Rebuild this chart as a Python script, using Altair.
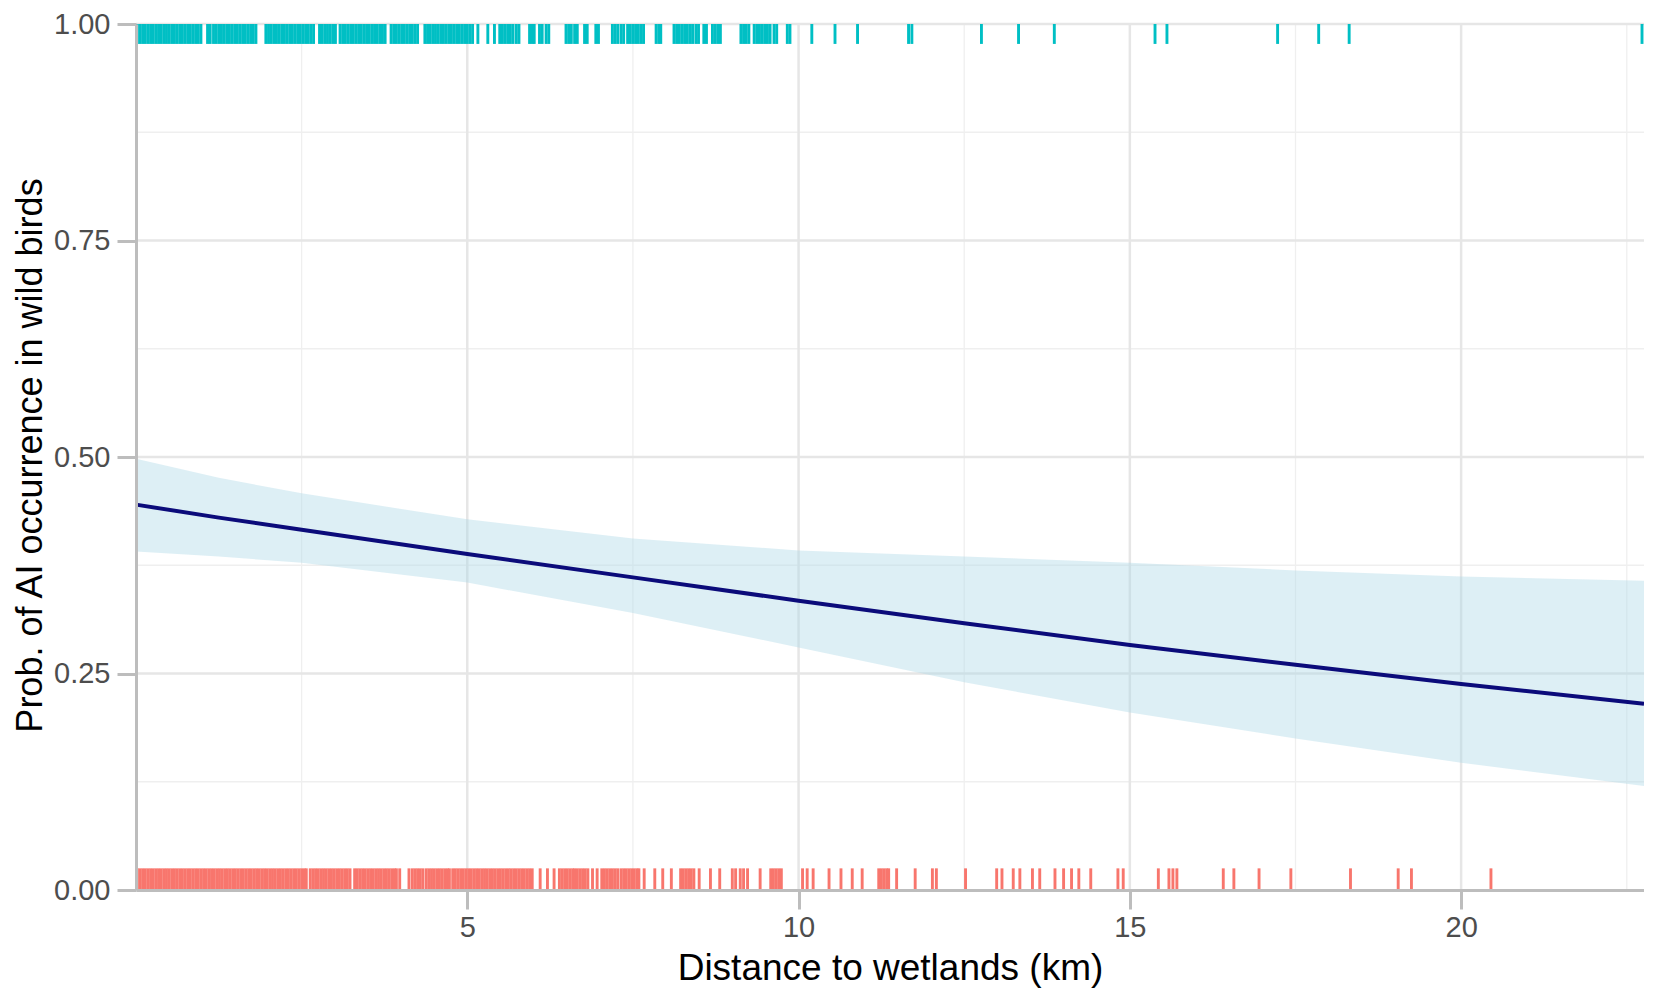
import altair as alt
import pandas as pd

# Fitted logistic curve and confidence band
curve_x = [0, 1.25, 2.5, 5, 7.5, 10, 12.5, 15, 17.5, 20, 22.76]
curve_fit = [0.445, 0.430, 0.416, 0.388, 0.361, 0.334, 0.308, 0.283, 0.260, 0.238, 0.215]
curve_upper = [0.498, 0.476, 0.458, 0.428, 0.406, 0.392, 0.385, 0.378, 0.369, 0.362, 0.357]
curve_lower = [0.391, 0.385, 0.378, 0.355, 0.320, 0.280, 0.240, 0.205, 0.175, 0.147, 0.120]

# Rug of observations with AI occurrence (y = 1)
rug_present = [
    0.02, 0.06, 0.10, 0.14, 0.18, 0.22, 0.26, 0.30, 0.34, 0.38, 0.42, 0.46, 0.50,
    0.54, 0.58, 0.62, 0.66, 0.70, 0.74, 0.78, 0.82, 0.86, 0.90, 0.94, 0.98,
    1.08, 1.12,
    1.17, 1.21, 1.25, 1.29, 1.33, 1.37, 1.41, 1.45, 1.49, 1.53, 1.57, 1.61, 1.65,
    1.69, 1.73, 1.77, 1.81,
    1.96, 2.00, 2.04, 2.08, 2.12, 2.16, 2.20, 2.24, 2.28, 2.32, 2.36, 2.40, 2.44,
    2.48, 2.52, 2.56, 2.60, 2.64, 2.68,
    2.77, 2.81, 2.85, 2.89, 2.93, 2.97, 3.01,
    3.08, 3.12, 3.16, 3.20, 3.24, 3.28, 3.32, 3.36, 3.40, 3.44, 3.48, 3.52, 3.56,
    3.60, 3.64, 3.68, 3.72, 3.76,
    3.85, 3.89, 3.93, 3.97, 4.01, 4.05, 4.09, 4.13, 4.17, 4.21, 4.25,
    4.36, 4.40, 4.44, 4.48, 4.52, 4.56, 4.60, 4.64, 4.68, 4.72, 4.76, 4.80, 4.84,
    4.88, 4.92, 4.96, 5.00, 5.04, 5.08,
    5.16, 5.31, 5.41,
    5.49, 5.53, 5.57, 5.61, 5.65, 5.69, 5.74, 5.78,
    5.94, 5.98, 6.01, 6.09, 6.13, 6.19, 6.23,
    6.49, 6.53, 6.57, 6.62, 6.66, 6.77, 6.81, 6.94, 6.98,
    7.19, 7.23, 7.27, 7.32, 7.36, 7.42, 7.46, 7.50, 7.54, 7.58, 7.62, 7.66,
    7.85, 7.89, 7.92,
    8.12, 8.16, 8.20, 8.24, 8.28, 8.32, 8.36, 8.40, 8.45, 8.49, 8.57, 8.61,
    8.70, 8.74, 8.78, 8.82,
    9.13, 9.17, 9.21, 9.25, 9.33, 9.37, 9.41, 9.45, 9.49, 9.53, 9.57, 9.63, 9.67,
    9.83, 9.87,
    10.20, 10.55, 10.89, 11.66, 11.71, 12.76, 13.32, 13.86, 15.38, 15.56,
    17.23, 17.85, 18.31, 22.73,
]

# Rug of observations without AI occurrence (y = 0)
rug_absent = [
    0.02, 0.06, 0.10, 0.14, 0.18, 0.22, 0.26, 0.30, 0.34, 0.38, 0.42, 0.46, 0.50,
    0.54, 0.58, 0.62, 0.66, 0.70, 0.74, 0.78, 0.82, 0.86, 0.90, 0.94, 0.98, 1.02,
    1.06, 1.10, 1.14, 1.18, 1.22, 1.26, 1.30, 1.34, 1.38, 1.42, 1.46, 1.50, 1.54,
    1.58, 1.62, 1.66, 1.70, 1.74, 1.78, 1.82, 1.86, 1.90, 1.94, 1.98, 2.02, 2.06,
    2.10, 2.14, 2.18, 2.22, 2.26, 2.30, 2.34, 2.38, 2.42, 2.46, 2.50, 2.54, 2.57,
    2.63, 2.67, 2.71, 2.75, 2.79, 2.83, 2.87, 2.91, 2.95, 2.99, 3.03, 3.07, 3.11,
    3.15, 3.19, 3.23,
    3.30, 3.34, 3.38, 3.42, 3.46, 3.50, 3.54, 3.58,
    3.62, 3.66, 3.70, 3.74, 3.78, 3.82, 3.86, 3.90, 3.93,
    3.98, 4.12, 4.17, 4.21, 4.25, 4.29, 4.33,
    4.38, 4.42, 4.46, 4.50, 4.54, 4.58, 4.62, 4.66, 4.70, 4.73,
    4.78, 4.82, 4.86, 4.90, 4.94, 4.98, 5.02, 5.06, 5.10, 5.14, 5.18, 5.22, 5.26,
    5.30, 5.34, 5.38, 5.42, 5.46, 5.50, 5.54, 5.58, 5.62, 5.66, 5.70, 5.74, 5.78,
    5.82, 5.86, 5.90, 5.94, 5.98,
    6.10, 6.21, 6.31,
    6.39, 6.43, 6.47, 6.51, 6.55, 6.59, 6.62, 6.66, 6.70, 6.74, 6.78, 6.82,
    6.89, 6.96, 7.03,
    7.07, 7.11, 7.15, 7.19, 7.23, 7.27, 7.32, 7.36, 7.40, 7.44, 7.48, 7.52, 7.56, 7.59,
    7.67, 7.83, 7.95, 8.08,
    8.22, 8.26, 8.30, 8.34, 8.38, 8.42, 8.50, 8.67, 8.81,
    9.00, 9.05, 9.12, 9.17, 9.23, 9.42,
    9.58, 9.62, 9.66, 9.70, 9.74,
    10.06, 10.13, 10.22, 10.46, 10.64, 10.81, 10.96,
    11.21, 11.25, 11.29, 11.33, 11.36,
    11.48, 11.76, 12.02, 12.08, 12.52, 12.99, 13.07, 13.24, 13.34, 13.53, 13.64,
    13.87, 14.00, 14.12, 14.23, 14.41, 14.82, 14.90,
    15.43, 15.59, 15.65, 15.71, 16.41, 16.57, 16.95, 17.43, 18.33, 19.05, 19.25, 20.45,
]

x_major = [5, 10, 15, 20]
x_minor = [2.5, 7.5, 12.5, 17.5, 22.5]
y_major = [0.25, 0.5, 0.75, 1.0]
y_minor = [0.125, 0.375, 0.625, 0.875]
y_ticks = [0, 0.25, 0.5, 0.75, 1.0]

curve_df = pd.DataFrame({"x": curve_x, "fit": curve_fit, "lo": curve_lower, "hi": curve_upper})
present_df = pd.DataFrame({"x": rug_present})
absent_df = pd.DataFrame({"x": rug_absent})

AXIS_GRAY = "#BDBDBD"
xscale = alt.Scale(domain=[0, 22.76], nice=False, zero=False)
yscale = alt.Scale(domain=[0, 1], nice=False, zero=False)

xaxis = alt.Axis(
    values=x_major, title="Distance to wetlands (km)", grid=False,
    labelFontSize=29, labelColor="#4D4D4D", labelPadding=4,
    tickColor=AXIS_GRAY, tickWidth=3, tickSize=19,
    domainColor=AXIS_GRAY, domainWidth=3,
    titleFontSize=37, titleColor="black", titleFontWeight="normal",
    titleBaseline="alphabetic", titleY=89, zindex=1,
)
yaxis = alt.Axis(
    values=y_ticks, format=".2f", title="Prob. of AI occurrence in wild birds", grid=False,
    labelFontSize=29, labelColor="#4D4D4D", labelPadding=7,
    tickColor=AXIS_GRAY, tickWidth=3, tickSize=19,
    domainColor=AXIS_GRAY, domainWidth=3,
    titleFontSize=36, titleColor="black", titleFontWeight="normal",
    titleAngle=-90, titleBaseline="alphabetic", titleAlign="center",
    titleX=-95, titleY=431, zindex=1,
)


def X(field):
    return alt.X(field, type="quantitative", scale=xscale, axis=xaxis)


def Y(field):
    return alt.Y(field, type="quantitative", scale=yscale, axis=yaxis)


grid_xmaj = alt.Chart(pd.DataFrame({"v": x_major})).mark_rule(
    color="#E6E6E6", strokeWidth=2.5).encode(x=X("v"))
grid_xmin = alt.Chart(pd.DataFrame({"v": x_minor})).mark_rule(
    color="#EFEFEF", strokeWidth=1.3).encode(x=X("v"))
grid_ymaj = alt.Chart(pd.DataFrame({"v": y_major})).mark_rule(
    color="#E6E6E6", strokeWidth=2.5).encode(y=Y("v"))
grid_ymin = alt.Chart(pd.DataFrame({"v": y_minor})).mark_rule(
    color="#EFEFEF", strokeWidth=1.3).encode(y=Y("v"))

band = alt.Chart(curve_df).mark_area(color="#ADD8E6", opacity=0.42).encode(
    x=X("x"), y=Y("lo"), y2="hi")
line = alt.Chart(curve_df).mark_line(color="#0B0B7A", strokeWidth=4).encode(
    x=X("x"), y=Y("fit"))

rug_top = alt.Chart(present_df).mark_rule(color="#00BFC4", strokeWidth=2.9).encode(
    x=X("x"), y=alt.datum(0.977), y2=alt.datum(1.0))
rug_bottom = alt.Chart(absent_df).mark_rule(color="#F8766D", strokeWidth=2.9).encode(
    x=X("x"), y=alt.datum(0.0), y2=alt.datum(0.025))

chart = alt.layer(
    grid_xmin, grid_ymin, grid_xmaj, grid_ymaj, band, line, rug_top, rug_bottom
).properties(
    width=1508, height=866,
    autosize=alt.AutoSizeParams(type="none"),
    padding={"left": 128, "top": 16, "right": 0, "bottom": 98},
).configure(
    font="Liberation Sans",
).configure_view(
    stroke=None,
)

chart.save("out.html", embed_options={"renderer": "svg", "actions": False})
